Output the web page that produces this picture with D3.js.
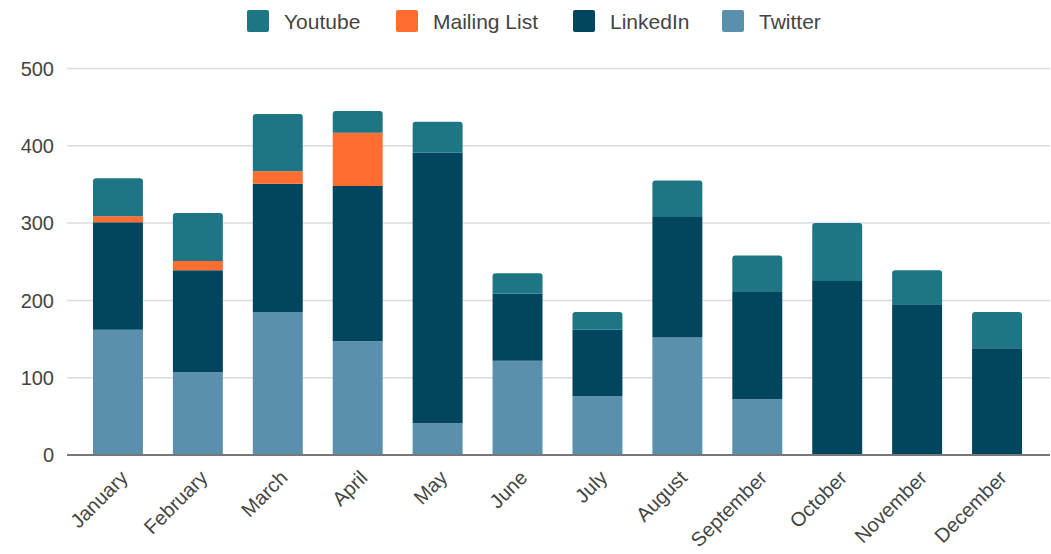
<!DOCTYPE html>
<html>
<head>
<meta charset="utf-8">
<script src="https://cdn.jsdelivr.net/npm/d3@7"></script>
<style>
  body { margin: 0; background: #fff; }
  svg text { font-family: "Liberation Sans", Arial, sans-serif; fill: #444; }
</style>
</head>
<body>
<svg id="chart" width="1051" height="554"></svg>
<script>
// Data
const months = ['January', 'February', 'March', 'April', 'May', 'June',
    'July', 'August', 'September', 'October', 'November', 'December'];
const twitter     = [162, 107, 185, 147, 41, 122, 76, 152, 72, 0, 0, 0];
const linkedin    = [139, 132, 166, 201, 350, 87, 86, 156, 139, 225, 195, 138];
const mailingList = [8, 12, 16, 69, 0, 0, 0, 0, 0, 0, 0, 0];
const youtube     = [49, 62, 74, 28, 40, 26, 23, 47, 47, 75, 44, 47];
const yTicks = [0, 100, 200, 300, 400, 500];

// stack order bottom -> top
const seriesKeys = ['Twitter', 'LinkedIn', 'Mailing List', 'Youtube'];
const legendKeys = ['Youtube', 'Mailing List', 'LinkedIn', 'Twitter'];
const colors = {
    'Youtube': '#1e7583',
    'Mailing List': '#ff6d31',
    'LinkedIn': '#02455f',
    'Twitter': '#5a90ae'
};

const rows = months.map((m, i) => ({
    month: m,
    'Twitter': twitter[i],
    'LinkedIn': linkedin[i],
    'Mailing List': mailingList[i],
    'Youtube': youtube[i]
}));

const svg = d3.select('#chart');
const gridLeft = 67, gridRight = 1050;

const x = d3.scaleBand()
    .domain(months)
    .range([78, 1037])
    .paddingInner(0.375)
    .paddingOuter(0.1875);

const y = d3.scaleLinear()
    .domain([0, 500])
    .range([455, 68.5]);

// Gridlines
svg.append('g')
    .selectAll('line')
    .data(yTicks.filter(d => d > 0))
    .join('line')
    .attr('x1', gridLeft)
    .attr('x2', gridRight)
    .attr('y1', d => y(d))
    .attr('y2', d => y(d))
    .attr('stroke', '#dcdcdc')
    .attr('stroke-width', 1.5);

// Y labels
svg.append('g')
    .selectAll('text')
    .data(yTicks)
    .join('text')
    .attr('x', 54)
    .attr('y', d => y(d))
    .attr('dy', '0.36em')
    .attr('text-anchor', 'end')
    .style('font-size', '20px')
    .text(d => d);

// Stacked bars
const stacked = d3.stack().keys(seriesKeys)(rows);

// topmost non-empty segment per month gets rounded top corners
const topKey = {};
rows.forEach(r => {
    seriesKeys.forEach(k => { if (r[k] > 0) topKey[r.month] = k; });
});

function segPath(x0, y0, w, h, r) {
    if (r <= 0) return `M${x0},${y0}h${w}v${h}h${-w}Z`;
    return `M${x0},${y0 + h}V${y0 + r}Q${x0},${y0} ${x0 + r},${y0}` +
        `H${x0 + w - r}Q${x0 + w},${y0} ${x0 + w},${y0 + r}V${y0 + h}Z`;
}

svg.append('g')
    .selectAll('g')
    .data(stacked)
    .join('g')
    .attr('fill', d => colors[d.key])
    .each(function(s) {
        d3.select(this).selectAll('path')
            .data(s.filter(d => d[1] - d[0] > 0))
            .join('path')
            .attr('d', d => {
                const x0 = x(d.data.month);
                const y0 = y(d[1]);
                const h = y(d[0]) - y(d[1]);
                const r = topKey[d.data.month] === s.key ? 3 : 0;
                return segPath(x0, y0, x.bandwidth(), h, r);
            });
    });

// Baseline
svg.append('line')
    .attr('x1', gridLeft)
    .attr('x2', gridRight)
    .attr('y1', y(0))
    .attr('y2', y(0))
    .attr('stroke', '#777')
    .attr('stroke-width', 2);

// X labels, rotated
svg.append('g')
    .selectAll('text')
    .data(months)
    .join('text')
    .attr('transform', d => `translate(${x(d) + x.bandwidth() / 2 + 11},${479}) rotate(-45)`)
    .attr('text-anchor', 'end')
    .style('font-size', '20px')
    .text(d => d);

// Legend
const legendPos = [247, 396, 573, 722];
const legend = svg.append('g')
    .selectAll('g')
    .data(legendKeys)
    .join('g')
    .attr('transform', (d, i) => `translate(${legendPos[i]},10)`);

legend.append('rect')
    .attr('width', 22)
    .attr('height', 22)
    .attr('rx', 2)
    .attr('fill', d => colors[d]);

legend.append('text')
    .attr('x', 37)
    .attr('y', 11)
    .attr('dy', '0.36em')
    .style('font-size', '21px')
    .text(d => d);
</script>
</body>
</html>
